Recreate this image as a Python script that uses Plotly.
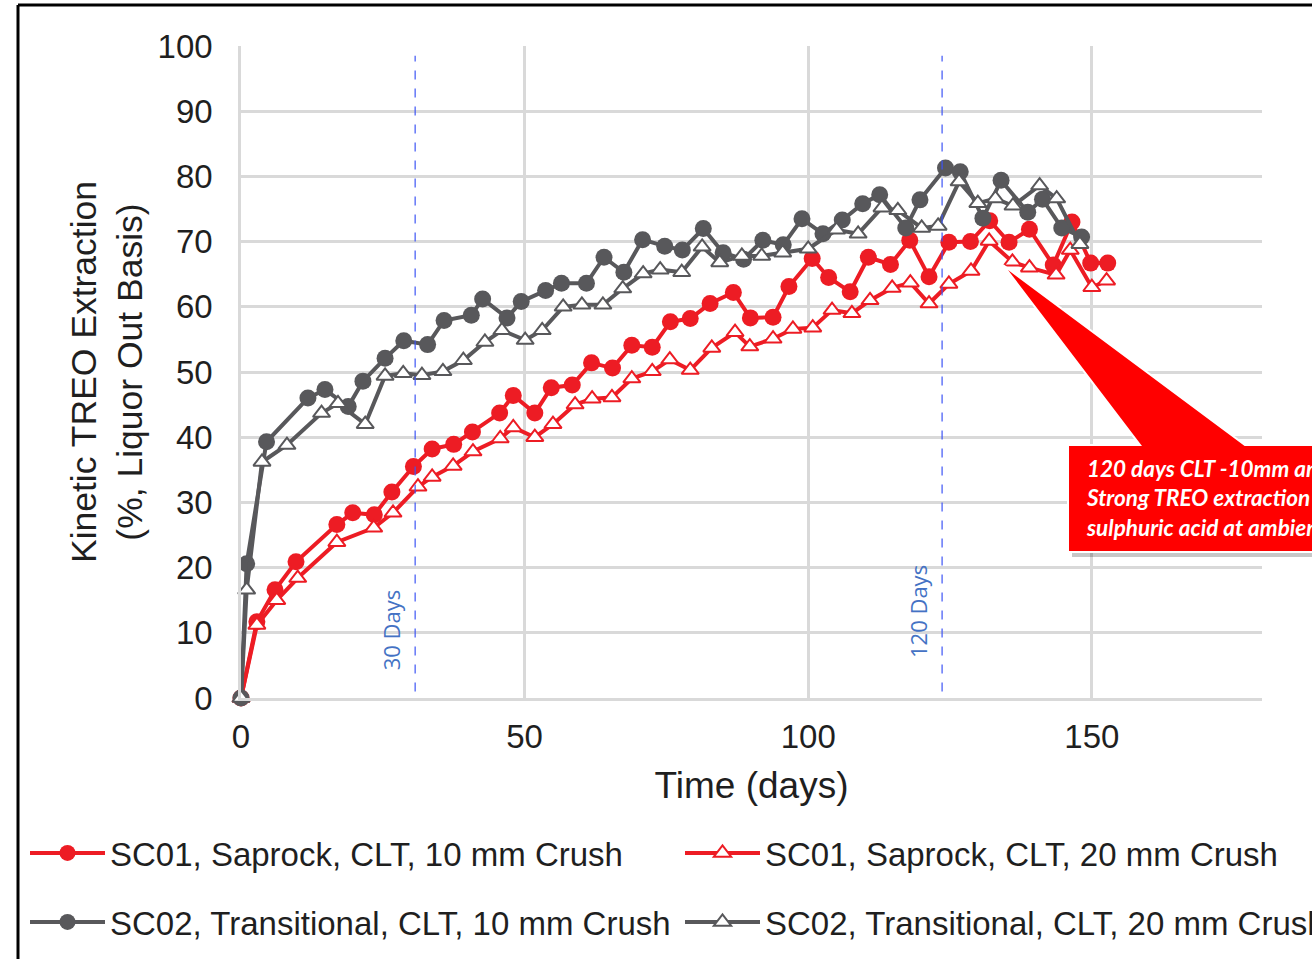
import plotly.graph_objects as go

# ---------------- data ----------------
sc01_10_x = [0, 2.8, 6, 9.7, 16.9, 19.7, 23.5, 26.6, 30.4, 33.7, 37.5, 40.8, 45.6, 48.0, 51.8,
             54.7, 58.4, 61.8, 65.5, 68.9, 72.5, 75.7, 79.2, 82.7, 86.8, 89.8, 93.8, 96.6,
             100.7, 103.6, 107.4, 110.6, 114.5, 117.9, 121.3, 124.8, 128.6, 132.0, 135.4,
             139.0, 143.2, 146.5, 149.8, 152.8]
sc01_10_y = [0, 11.7, 16.6, 20.9, 26.6, 28.4, 28.1, 31.6, 35.5, 38.2, 38.9, 40.8, 43.7, 46.4,
             43.7, 47.6, 48.0, 51.4, 50.6, 54.1, 53.8, 57.7, 58.2, 60.5, 62.2, 58.3, 58.4,
             63.1, 67.4, 64.5, 62.3, 67.6, 66.5, 70.2, 64.6, 69.9, 70.0, 73.2, 69.9, 71.9,
             66.4, 73.0, 66.7, 66.7]

sc01_20_x = [0, 2.8, 6.3, 10.0, 16.9, 23.4, 26.8, 31.2, 33.7, 37.4, 40.9, 45.7, 48.0, 51.8,
             55.0, 58.9, 61.9, 65.4, 68.9, 72.5, 75.6, 79.2, 83.0, 87.1, 89.7, 93.8, 97.3,
             100.8, 104.2, 107.7, 110.9, 114.8, 118.0, 121.3, 124.8, 128.7, 131.9, 136.0,
             139.0, 143.7, 146.2, 150.0, 152.6]
sc01_20_y = [0, 11.2, 15.0, 18.4, 23.9, 26.1, 28.4, 32.4, 33.9, 35.6, 37.8, 39.8, 41.5, 40.0,
             42.0, 45.0, 45.9, 46.1, 49.0, 50.1, 51.9, 50.3, 53.7, 56.1, 53.9, 55.1, 56.6,
             56.8, 59.5, 59.0, 61.0, 62.9, 63.7, 60.5, 63.5, 65.5, 70.1, 66.9, 66.0, 64.9,
             68.7, 63.0, 64.0]

sc02_10_x = [0, 1.0, 4.5, 11.8, 14.8, 18.9, 21.5, 25.4, 28.7, 32.9, 35.8, 40.6, 42.6, 46.9,
             49.4, 53.7, 56.5, 60.9, 64.0, 67.5, 70.8, 74.7, 77.8, 81.5, 85.0, 88.6, 92.0,
             95.6, 98.9, 102.6, 106.0, 109.6, 112.6, 117.2, 119.7, 124.2, 126.8, 130.8,
             134.0, 138.7, 141.3, 144.7, 148.2]
sc02_10_y = [0, 20.6, 39.3, 46.0, 47.3, 44.7, 48.6, 52.1, 54.8, 54.2, 57.9, 58.7, 61.2, 58.3,
             60.8, 62.5, 63.6, 63.6, 67.6, 65.3, 70.3, 69.3, 68.7, 72.0, 68.3, 67.3, 70.2,
             69.5, 73.5, 71.2, 73.3, 75.8, 77.2, 72.1, 76.4, 81.3, 80.7, 73.6, 79.4, 74.5,
             76.5, 72.1, 70.7]

sc02_20_x = [0, 1.0, 3.7, 8.1, 14.2, 17.1, 21.9, 25.4, 28.6, 31.9, 35.6, 39.2, 43.0, 46.0,
             50.1, 53.1, 56.8, 60.1, 63.8, 67.3, 70.9, 73.9, 77.7, 81.3, 84.4, 88.3, 91.8,
             95.5, 100.0, 105.0, 108.8, 113.0, 115.8, 120.0, 122.9, 126.6, 129.9, 133.0,
             136.1, 140.8, 143.8, 147.9]
sc02_20_y = [0, 16.6, 36.2, 38.8, 43.7, 45.2, 42.0, 49.4, 49.8, 49.5, 50.1, 51.8, 54.6, 56.4,
             54.9, 56.4, 60.0, 60.3, 60.3, 62.8, 65.1, 65.7, 65.3, 69.2, 66.8, 67.8, 67.8,
             68.3, 68.9, 71.8, 71.2, 75.2, 74.8, 72.1, 72.4, 79.2, 75.9, 76.6, 75.5, 78.6,
             76.6, 69.6]

names = ["SC01, Saprock, CLT, 10 mm Crush", "SC01, Saprock, CLT, 20 mm Crush",
         "SC02, Transitional, CLT, 10 mm Crush", "SC02, Transitional, CLT, 20 mm Crush"]

x_ticks = [0, 50, 100, 150]
y_ticks = [0, 10, 20, 30, 40, 50, 60, 70, 80, 90, 100]
marker_days = [30.7, 123.6]
marker_labels = ["30 Days", "120 Days"]
marker_label_y = [10.4, 13.2]

callout_lines = ["120 days CLT -10mm and 20mm:", "Strong TREO extraction with",
                 "sulphuric acid at ambient temp."]

# ---------------- styling ----------------
RED = "#ED1C24"
GRAY = "#58585B"
GRID = "#D9D9D9"
TXT = "#1f1f1f"
FONT = "Liberation Sans, Arial, sans-serif"

W, H = 1312, 959
L, R, T, B = 241, 50, 46, 261
PW, PH = W - L - R, H - T - B


def px(xp):
    return (xp - L) / PW


def py(yp):
    return (H - B - yp) / PH


fig = go.Figure()

legend_ids = ["legend", "legend2", "legend3", "legend4"]
series = [
    (sc01_10_x, sc01_10_y, RED, "circle", RED),
    (sc01_20_x, sc01_20_y, RED, "triangle-up", "white"),
    (sc02_10_x, sc02_10_y, GRAY, "circle", GRAY),
    (sc02_20_x, sc02_20_y, GRAY, "triangle-up", "white"),
]
for (xs, ys, col, sym, fill), nm, lg in zip(series, names, legend_ids):
    if sym == "circle":
        mk = dict(symbol=sym, size=17, color=fill, line=dict(color=col, width=0))
    else:
        mk = dict(symbol=sym, size=15, color=fill, line=dict(color=col, width=2))
    fig.add_trace(go.Scatter(x=xs, y=ys, mode="lines+markers", name=nm, cliponaxis=False,
                             line=dict(color=col, width=4), marker=mk, legend=lg))

# dashed markers of 30 / 120 days
for d, lab, ly in zip(marker_days, marker_labels, marker_label_y):
    fig.add_shape(type="line", x0=d, x1=d, y0=1, y1=98.5, xref="x", yref="y",
                  line=dict(color="#3D55F5", width=1.2, dash="dash"))
    fig.add_annotation(x=d, y=ly, xref="x", yref="y", text=lab,
                       textangle=-90, showarrow=False, xshift=-24,
                       font=dict(family="Open Sans, sans-serif", size=22, color="#4472C4"))

# callout shape (box + pointer) in paper coords
bx0, bx1 = px(1068), px(1340)
by0, by1 = py(552), py(445)
pl, pr = px(1140), px(1245)
tx, ty = px(1003), py(265)


def callout_path(dx=0.0, dy=0.0):
    pts = [(bx0, by0), (bx0, by1), (pl, by1), (tx, ty), (pr, by1), (bx1, by1), (bx1, by0)]
    return "M " + " L ".join(f"{x + dx:.4f},{y + dy:.4f}" for x, y in pts) + " Z"


fig.add_shape(type="path", path=callout_path(4 / PW, -5 / PH), xref="paper", yref="paper",
              fillcolor="rgba(0,0,0,0.22)", line=dict(width=0), layer="above")
fig.add_shape(type="path", path=callout_path(), xref="paper", yref="paper",
              fillcolor="#FF0000", line=dict(color="white", width=2), layer="above")
fig.add_annotation(x=px(1084), y=py(498), xref="paper", yref="paper",
                   text="<br>".join(callout_lines), showarrow=False, xanchor="left",
                   yanchor="middle", align="left",
                   font=dict(family="Lato, Open Sans, sans-serif", size=22.5, color="white",
                             weight="bold", style="italic"))

# outer black frame (top and left visible)
fig.add_shape(type="line", xref="paper", yref="paper", x0=px(18), x1=px(1330), y0=py(5), y1=py(5),
              line=dict(color="black", width=3))
fig.add_shape(type="line", xref="paper", yref="paper", x0=px(18), x1=px(18), y0=py(5), y1=py(980),
              line=dict(color="black", width=3))

legend_pos = [(25, 853), (680, 853), (25, 922), (680, 922)]
legends = {}
for lg, (lx, ly) in zip(legend_ids, legend_pos):
    legends[lg] = dict(orientation="v", x=px(lx), y=py(ly), xanchor="left", yanchor="middle",
                       itemwidth=75, font=dict(size=33, color=TXT),
                       bgcolor="rgba(0,0,0,0)", borderwidth=0)

fig.update_layout(
    width=W, height=H, margin=dict(l=L, r=R, t=T, b=B, autoexpand=False),
    paper_bgcolor="white", plot_bgcolor="white",
    font=dict(family=FONT, color=TXT),
    xaxis=dict(range=[0, 180], tickvals=x_ticks, showgrid=True, gridcolor=GRID, gridwidth=2.5,
               zeroline=False, showline=True, linecolor=GRID, linewidth=3,
               ticks="", tickfont=dict(size=33, color=TXT), ticklabelstandoff=7,
               title=dict(text="Time (days)", font=dict(size=37, color=TXT), standoff=19)),
    yaxis=dict(range=[0, 100], tickvals=y_ticks, showgrid=True, gridcolor=GRID, gridwidth=2.5,
               zeroline=False, showline=True, linecolor=GRID, linewidth=2.5,
               ticks="", tickfont=dict(size=33, color=TXT), ticklabelstandoff=19,
               title=dict(text="Kinetic TREO Extraction<br>(%, Liquor Out Basis)",
                          font=dict(size=35.5, color=TXT), standoff=5)),
    showlegend=True,
    **legends,
)

fig.write_html("out.html", config={"displayModeBar": False},
               post_script="document.body.style.margin='0px';")
